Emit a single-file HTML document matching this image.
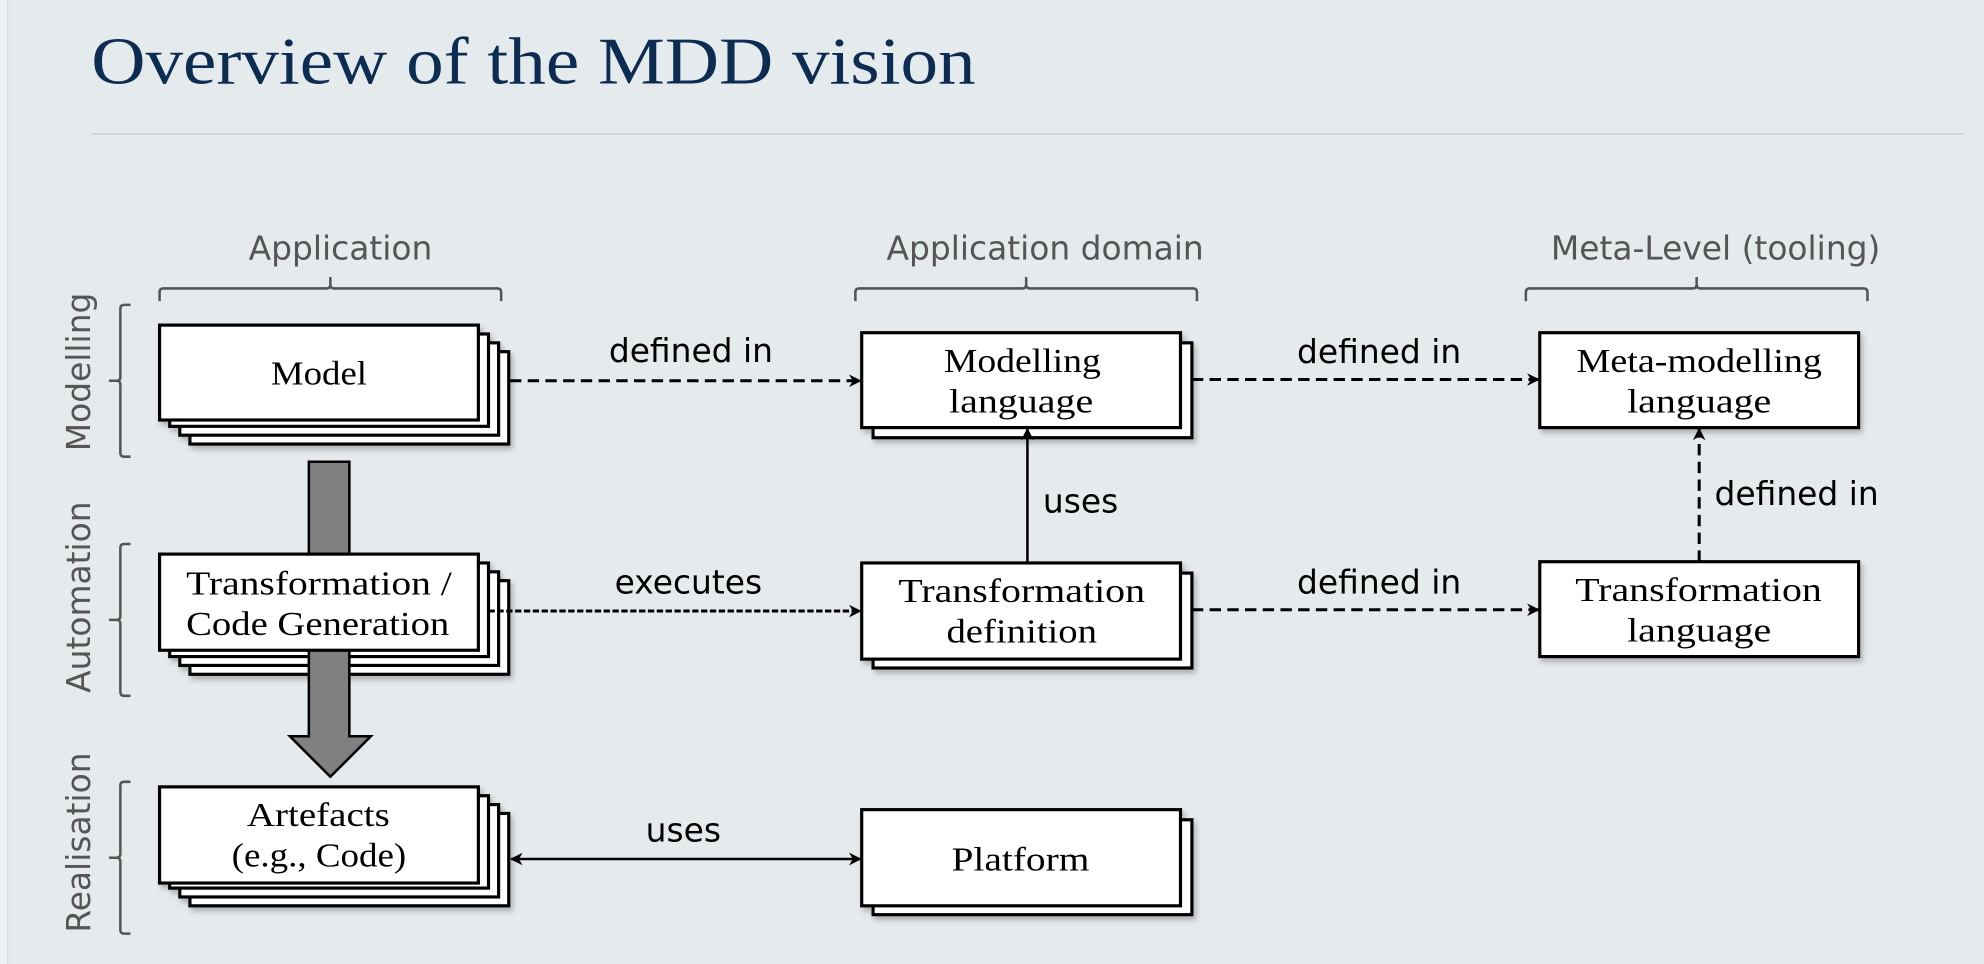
<!DOCTYPE html>
<html><head><meta charset="utf-8"><style>
html,body{margin:0;padding:0;background:#e5eaed;}
svg{display:block}
.s{font-family:"DejaVu Sans","Liberation Sans",sans-serif}
.r{font-family:"Liberation Serif","DejaVu Serif",serif}
</style></head><body>
<svg width="1984" height="964" viewBox="0 0 1568 762" xmlns="http://www.w3.org/2000/svg">
<defs>
<marker id="ah" viewBox="0 0 10 10" refX="9" refY="5" markerWidth="10" markerHeight="10" orient="auto-start-reverse" markerUnits="userSpaceOnUse">
<path d="M0,0 L10,5 L0,10 L3,5 Z" fill="#000"/>
</marker>
<filter id="sh" x="-10%" y="-10%" width="130%" height="140%"><feDropShadow dx="2" dy="3" stdDeviation="2" flood-color="#000" flood-opacity="0.25"/></filter>
</defs>
<rect width="1568" height="762" fill="#e5eaed"/>
<rect x="0" y="0" width="6" height="762" fill="#eef1f3"/>
<line x1="6" y1="0" x2="6" y2="762" stroke="#d6dbde" stroke-width="1"/>
<text x="72" y="66" class="r" font-size="53" fill="#0d2c52" textLength="699" lengthAdjust="spacingAndGlyphs">Overview of the MDD vision</text>
<line x1="72" y1="106" x2="1552" y2="106" stroke="#cfd7dc" stroke-width="1.5"/>

<g class="s" font-size="26" fill="#555" text-anchor="middle">
<text x="269" y="205">Application</text>
<text x="826" y="205">Application domain</text>
<text x="1356" y="205">Meta-Level (tooling)</text>
</g>
<g fill="none" stroke="#555" stroke-width="2">
<path d="M126,238 v-7 q0,-3 3,-3 h129 q3,0 3,-3 v-6 M261,219 v6 q0,3 3,3 h129 q3,0 3,3 v7"/>
<path d="M676,238 v-7 q0,-3 3,-3 h129 q3,0 3,-3 v-6 M811,219 v6 q0,3 3,3 h129 q3,0 3,3 v7"/>
<path d="M1206,238 v-7 q0,-3 3,-3 h129 q3,0 3,-3 v-6 M1341,219 v6 q0,3 3,3 h129 q3,0 3,3 v7"/>
<path d="M103,241 h-5 q-3,0 -3,3 v54 q0,3 -3,3 h-6 M86,301 h6 q3,0 3,3 v54 q0,3 3,3 h5"/>
<path d="M103,430 h-5 q-3,0 -3,3 v54 q0,3 -3,3 h-6 M86,490 h6 q3,0 3,3 v54 q0,3 3,3 h5"/>
<path d="M103,618 h-5 q-3,0 -3,3 v54 q0,3 -3,3 h-6 M86,678 h6 q3,0 3,3 v54 q0,3 3,3 h5"/>
</g>
<g class="s" font-size="26" fill="#555" text-anchor="middle">
<text transform="translate(71,294) rotate(-90)">Modelling</text>
<text transform="translate(71,472) rotate(-90)">Automation</text>
<text transform="translate(71,666) rotate(-90)">Realisation</text>
</g>

<g stroke="#000" stroke-width="2.5" fill="#fff">
<g filter="url(#sh)">
<rect x="150" y="278" width="252" height="73"/>
<rect x="142" y="271" width="252" height="73"/>
<rect x="134" y="264" width="252" height="73"/>
<rect x="126" y="257" width="252" height="75"/>
</g>
<g filter="url(#sh)">
<rect x="690" y="271" width="252" height="75"/>
<rect x="681" y="263" width="252" height="75"/>
</g>
<rect x="1217" y="263" width="252" height="75" filter="url(#sh)"/>
<g filter="url(#sh)">
<rect x="150" y="459" width="252" height="74"/>
<rect x="142" y="452" width="252" height="74"/>
<rect x="134" y="445" width="252" height="74"/>
</g>
</g>
<path d="M244,365 H276 V582 H293 L261,614 L229,582 H244 Z" fill="#808080" stroke="#000" stroke-width="2"/>
<g stroke="#000" stroke-width="2.5" fill="#fff">
<rect x="126" y="438" width="252" height="76"/>
<g filter="url(#sh)">
<rect x="690" y="453" width="252" height="75"/>
<rect x="681" y="445" width="252" height="76"/>
</g>
<rect x="1217" y="444" width="252" height="75" filter="url(#sh)"/>
<g filter="url(#sh)">
<rect x="150" y="643" width="252" height="73"/>
<rect x="142" y="636" width="252" height="73"/>
<rect x="134" y="629" width="252" height="73"/>
<rect x="126" y="622" width="252" height="76"/>
</g>
<g filter="url(#sh)">
<rect x="690" y="648" width="252" height="75"/>
<rect x="681" y="640" width="252" height="76"/>
</g>
</g>

<g class="r" font-size="27" fill="#000" lengthAdjust="spacingAndGlyphs">
<text x="214" y="304" textLength="76" lengthAdjust="spacingAndGlyphs">Model</text>
<text x="746" y="294" textLength="124" lengthAdjust="spacingAndGlyphs">Modelling</text>
<text x="750" y="326" textLength="114" lengthAdjust="spacingAndGlyphs">language</text>
<text x="1246" y="294" textLength="194" lengthAdjust="spacingAndGlyphs">Meta-modelling</text>
<text x="1286" y="326" textLength="114" lengthAdjust="spacingAndGlyphs">language</text>
<text x="147" y="470" textLength="210" lengthAdjust="spacingAndGlyphs">Transformation /</text>
<text x="147" y="502" textLength="208" lengthAdjust="spacingAndGlyphs">Code Generation</text>
<text x="710" y="476" textLength="195" lengthAdjust="spacingAndGlyphs">Transformation</text>
<text x="748" y="508" textLength="119" lengthAdjust="spacingAndGlyphs">definition</text>
<text x="1245" y="475" textLength="195" lengthAdjust="spacingAndGlyphs">Transformation</text>
<text x="1286" y="507" textLength="114" lengthAdjust="spacingAndGlyphs">language</text>
<text x="195" y="653" textLength="113" lengthAdjust="spacingAndGlyphs">Artefacts</text>
<text x="183" y="685" textLength="138" lengthAdjust="spacingAndGlyphs">(e.g., Code)</text>
<text x="752" y="688" textLength="109" lengthAdjust="spacingAndGlyphs">Platform</text>
</g>

<g stroke="#000" stroke-width="2.4" fill="none">
<line x1="403" y1="301" x2="680" y2="301" stroke-dasharray="9,5" marker-end="url(#ah)"/>
<line x1="942" y1="300" x2="1216" y2="300" stroke-dasharray="9,5" marker-end="url(#ah)"/>
<line x1="386" y1="483" x2="680" y2="483" stroke-dasharray="5,2" marker-end="url(#ah)"/>
<line x1="942" y1="482" x2="1216" y2="482" stroke-dasharray="9,5" marker-end="url(#ah)"/>
<line x1="812" y1="445" x2="812" y2="339" stroke-width="2" marker-end="url(#ah)"/>
<line x1="1343" y1="444" x2="1343" y2="339" stroke-dasharray="9,5" marker-end="url(#ah)"/>
<line x1="404" y1="679" x2="680" y2="679" stroke-width="2" marker-start="url(#ah)" marker-end="url(#ah)"/>
</g>
<g class="s" font-size="26" fill="#000" text-anchor="middle">
<text x="546" y="286">defined in</text>
<text x="1090" y="287">defined in</text>
<text x="544" y="469">executes</text>
<text x="1090" y="469">defined in</text>
<text x="854" y="405">uses</text>
<text x="1420" y="399">defined in</text>
<text x="540" y="665">uses</text>
</g>
</svg>
</body></html>
